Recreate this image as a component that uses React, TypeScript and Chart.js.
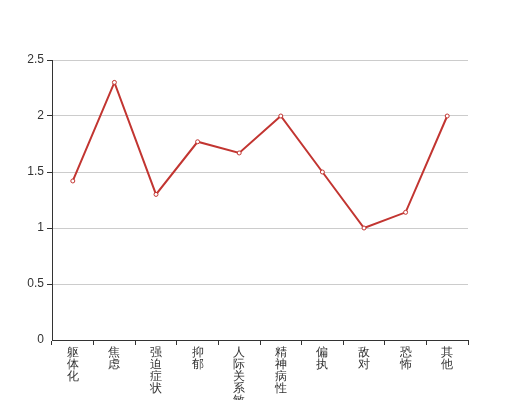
import React, { useEffect, useRef } from "react";
import { Chart, registerables } from "chart.js";

Chart.register(...registerables);

const categories = ["躯体化", "焦虑", "强迫症状", "抑郁", "人际关系敏感", "精神病性", "偏执", "敌对", "恐怖", "其他"];
const values = [1.42, 2.3, 1.3, 1.77, 1.67, 2.0, 1.5, 1.0, 1.14, 2.0];
const yTicks = [0, 0.5, 1, 1.5, 2, 2.5];

export default function App() {
  const ref = useRef<HTMLCanvasElement>(null);
  useEffect(() => {
    if (!ref.current) return;
    const red = "#c23531";
    const chart = new Chart(ref.current, {
      type: "line",
      data: {
        labels: categories.map((c) => c.split("")),
        datasets: [
          {
            data: values,
            borderColor: red,
            borderWidth: 2,
            backgroundColor: "#fff",
            pointBackgroundColor: "#fff",
            pointBorderColor: red,
            pointBorderWidth: 1,
            pointRadius: 2,
            tension: 0,
          },
        ],
      },
      options: {
        animation: false,
        responsive: false,
        maintainAspectRatio: false,
        layout: { padding: { left: 0, right: 52, top: 60, bottom: 0 } },
        plugins: { legend: { display: false }, tooltip: { enabled: false } },
        scales: {
          x: {
            type: "category",
            offset: true,
            afterFit: (s: any) => {
              s.height = 60;
            },
            grid: {
              offset: true,
              drawOnChartArea: false,
              drawTicks: true,
              tickLength: 5,
              tickColor: "#333",
            },
            border: { display: true, color: "#333", width: 1 },
            ticks: {
              color: "#333",
              padding: 2,
              maxRotation: 0,
              minRotation: 0,
              autoSkip: false,
              font: { family: "sans-serif", size: 12, lineHeight: "12px" as any },
            },
          },
          y: {
            min: 0,
            max: 2.5,
            afterFit: (s: any) => {
              s.width = 52;
            },
            afterBuildTicks: (s: any) => {
              s.ticks = yTicks.map((v) => ({ value: v }));
            },
            grid: {
              color: "#ccc",
              tickColor: "#333",
              tickLength: 5,
              lineWidth: (ctx: any) => (ctx.index === 0 ? 0 : 1),
            },
            border: { display: true, color: "#333", width: 1 },
            ticks: {
              color: "#333",
              padding: 3,
              font: { family: "sans-serif", size: 12 },
              callback: (v: any) => String(v),
            },
          },
        },
      },
    });
    return () => chart.destroy();
  }, []);
  return (
    <div style={{ position: "absolute", left: 0, top: 0, width: 520, height: 400 }}>
      <canvas ref={ref} width={520} height={400} style={{ width: 520, height: 400 }} />
    </div>
  );
}
